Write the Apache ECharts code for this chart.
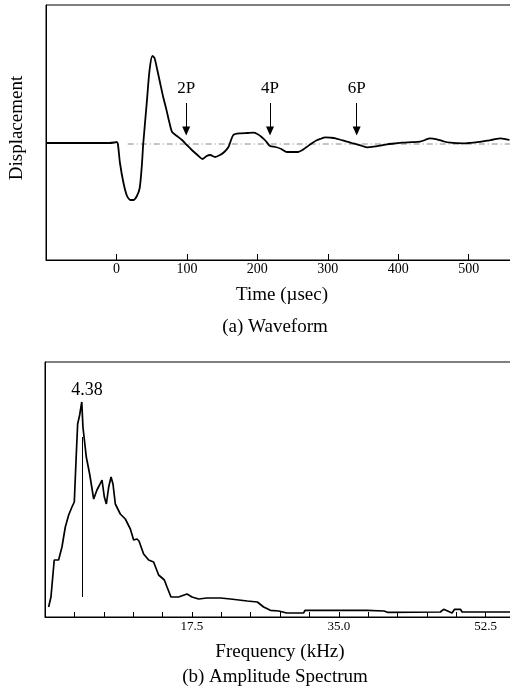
<!DOCTYPE html>
<html><head><meta charset="utf-8">
<script src="https://cdn.jsdelivr.net/npm/echarts@6/dist/echarts.min.js"></script>
<style>html,body{margin:0;padding:0;background:#fff}#c{width:510px;height:693px}</style>
</head><body><div id="c"></div>
<script>
// ---- (a) Waveform data ----
const waveTime = [-100,-70,-40,-10,-3,0,2,5,10,15,20,24,29,33,36,38,43,47,51,54,58,62,66,71,75,79,86,93,100,107,115,122,128,133,140,147,153,159,166,176,186,194,200,206,212,218,226,234,242,250,258,264,270,278,285,291,296,304,311,319,327,334,341,349,356,365,375,384,395,405,418,431,438,445,455,465,474,483,493,500,507,516,526,535,545,554,558];
const waveDisp = [1,1,1,1,1.5,2,0,-19,-39,-52,-56,-56,-52,-44,-22,0,41,74,88,86,74,61,48,34,22,12,8,4,-1,-6,-11,-15,-12,-11,-13,-11,-8,-3,9,10.7,11,11.3,10,7,3,-2,-3,-5,-8,-8,-8,-6,-3,1,4,5.5,6.7,6.3,5.7,4,2.3,1,-0.3,-2,-3.3,-2.7,-1.5,-0.3,0.5,1.3,1.8,2.3,4,5.7,4.7,2.5,1.3,0.8,0.7,1,1.3,2.2,3.3,4.5,5.7,4.7,4];
const baselineTime = [16, 570];
const baselineDisp = [0, 0];
const waveTicks = [0, 100, 200, 300, 400, 500];
const arrowLabels = ['2P', '4P', '6P'];
const arrowTimes = [99, 218, 341];
const arrowFrom = 41, arrowTo = 13, arrowLabelAt = 55;

// ---- (b) Amplitude spectrum data ----
const specFreq = [0.43,0.71,1.1,1.62,2.02,2.42,2.82,3.21,3.49,3.73,3.89,4.13,4.38,4.52,4.67,4.92,5.32,5.8,6.19,6.5,6.79,7.07,7.31,7.59,7.87,8.1,8.38,8.97,9.57,10.17,10.56,10.96,11.2,11.75,12.35,12.94,13.54,14.22,14.54,15.01,15.92,16.92,17.52,18.3,19.3,20.9,22.1,24.1,25.3,26.05,26.85,27.85,28.8,30.8,31.0,34.4,38.4,40.4,40.8,47.1,47.5,48.1,48.5,48.8,49.5,49.7,55.5];
const specAmp = [10,20,57,57,70,90,102,110,115,163,193,202,215,190,188,160,143,118,127,132,137,120,113,130,140,133,113,103,98,88,77,78,76,63,57,55,42,37,30,20,20,23,20,18,19,19,18,16,15,10,6.7,6,4,4,6.7,6.7,6.7,6,4.7,5,7.7,5.5,4,7.7,7.7,5,5];
const peakFreq = 4.38;
const peakLabel = '4.38';
const peakLineFrom = 20, peakLineTo = 180, peakLabelAt = [5.0, 227];
const specTicks = [17.5, 35.0, 52.5];

const FONT = "'Liberation Serif','DejaVu Serif',serif";
const zip = (a, b) => a.map((v, i) => [v, b[i]]);

const chart = echarts.init(document.getElementById('c'), null, {renderer: 'canvas'});
const axisCommon = {
  axisLine: {onZero: false, lineStyle: {color: '#000', width: 1}},
  splitLine: {show: false}
};
const centerText = (text, x, y, rot) => ({
  type: 'text', x: x, y: y, rotation: rot || 0,
  style: {text: text, font: '19px ' + FONT, fill: '#000',
    textAlign: 'center', textVerticalAlign: 'middle', align: 'center', verticalAlign: 'middle'}
});
chart.setOption({
  animation: false,
  backgroundColor: '#fff',
  grid: [
    {left: 46, top: 5, width: 472, height: 255, show: true, borderColor: '#000', borderWidth: 1,
      containLabel: false, outerBoundsMode: 'none'},
    {left: 45, top: 362, width: 470, height: 255, show: true, borderColor: '#000', borderWidth: 1,
      containLabel: false, outerBoundsMode: 'none'}
  ],
  xAxis: [
    Object.assign({}, axisCommon, {
      gridIndex: 0, type: 'value', min: -100, max: 570, interval: 100,
      name: 'Time (µsec)', nameLocation: 'middle', nameGap: 26,
      nameTextStyle: {fontFamily: FONT, fontSize: 19, color: '#000'},
      axisTick: {inside: true, length: 6, lineStyle: {color: '#000'}},
      axisLabel: {margin: 2, fontFamily: FONT, fontSize: 14, color: '#000',
        formatter: v => waveTicks.includes(v) ? String(v) : ''}
    }),
    Object.assign({}, axisCommon, {
      gridIndex: 1, type: 'value', min: 0, max: 56, interval: 3.5,
      name: 'Frequency (kHz)', nameLocation: 'middle', nameGap: 26,
      nameTextStyle: {fontFamily: FONT, fontSize: 19, color: '#000'},
      axisTick: {inside: true, length: 5, lineStyle: {color: '#000'}},
      axisLabel: {margin: 3, fontFamily: FONT, fontSize: 13, color: '#000',
        formatter: v => specTicks.some(t => Math.abs(t - v) < 1e-6) ? v.toFixed(1) : ''}
    })
  ],
  yAxis: [
    Object.assign({}, axisCommon, {gridIndex: 0, type: 'value', min: -116, max: 139,
      axisTick: {show: false}, axisLabel: {show: false}}),
    Object.assign({}, axisCommon, {gridIndex: 1, type: 'value', min: 0, max: 255,
      axisTick: {show: false}, axisLabel: {show: false}})
  ],
  graphic: [
    centerText('Displacement', 17, 128, Math.PI / 2),
    centerText('(a) Waveform', 275, 327),
    centerText('(b) Amplitude Spectrum', 275, 677)
  ],
  series: [
    {type: 'line', xAxisIndex: 0, yAxisIndex: 0, data: zip(baselineTime, baselineDisp),
      symbol: 'none', silent: true,
      lineStyle: {color: '#888', width: 1, type: [6, 3, 1, 3]}},
    {type: 'line', xAxisIndex: 0, yAxisIndex: 0, data: zip(waveTime, waveDisp),
      symbol: 'none', smooth: 0.25, silent: true,
      lineStyle: {color: '#000', width: 1.8},
      markLine: {silent: true, symbol: ['none', 'triangle'], symbolSize: [8, 9],
        lineStyle: {color: '#000', width: 1, type: 'solid'}, label: {show: false},
        data: arrowTimes.map(t => [{coord: [t, arrowFrom]}, {coord: [t, arrowTo]}])},
      markPoint: {silent: true, symbol: 'circle', symbolSize: 0,
        label: {show: true, position: 'inside', formatter: p => p.name,
          fontFamily: FONT, fontSize: 17, color: '#000'},
        data: arrowTimes.map((t, i) => ({name: arrowLabels[i], coord: [t, arrowLabelAt]}))}
    },
    {type: 'line', xAxisIndex: 1, yAxisIndex: 1, data: zip(specFreq, specAmp),
      symbol: 'none', silent: true,
      lineStyle: {color: '#000', width: 1.7},
      markLine: {silent: true, symbol: ['none', 'none'],
        lineStyle: {color: '#000', width: 1, type: 'solid'}, label: {show: false},
        data: [[{coord: [peakFreq, peakLineFrom]}, {coord: [peakFreq, peakLineTo]}]]},
      markPoint: {silent: true, symbol: 'circle', symbolSize: 0,
        label: {show: true, position: 'inside', formatter: p => p.name,
          fontFamily: FONT, fontSize: 18, color: '#000'},
        data: [{name: peakLabel, coord: peakLabelAt}]}
    }
  ]
});
</script>
</body></html>
